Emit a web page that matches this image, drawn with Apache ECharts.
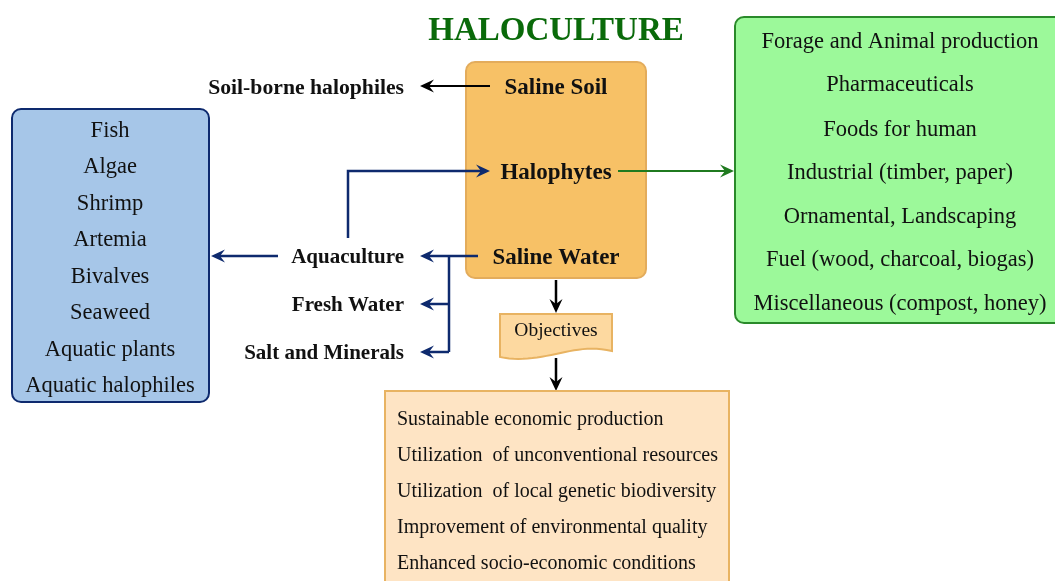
<!DOCTYPE html>
<html>
<head>
<meta charset="utf-8">
<script src="https://cdn.jsdelivr.net/npm/echarts@6/dist/echarts.min.js"></script>
<style>
  html, body { margin: 0; padding: 0; background: #fff; }
  #chart { width: 1055px; height: 581px; }
</style>
</head>
<body>
<div id="chart"></div>
<script>
// texts of the diagram
const title = 'HALOCULTURE';
const sourceLabels = ['Saline Soil', 'Halophytes', 'Saline Water'];
const halophyteUses = ['Forage and Animal production', 'Pharmaceuticals', 'Foods for human',
  'Industrial (timber, paper)', 'Ornamental, Landscaping', 'Fuel (wood, charcoal, biogas)',
  'Miscellaneous (compost, honey)'];
const aquaProducts = ['Fish', 'Algae', 'Shrimp', 'Artemia', 'Bivalves', 'Seaweed',
  'Aquatic plants', 'Aquatic halophiles'];
const waterUses = ['Aquaculture', 'Fresh Water', 'Salt and Minerals'];
const soilUse = 'Soil-borne halophiles';
const objectivesLabel = 'Objectives';
const objectives = ['Sustainable economic production', 'Utilization  of unconventional resources',
  'Utilization  of local genetic biodiversity', 'Improvement of environmental quality',
  'Enhanced socio-economic conditions'];

const SERIF = '"Liberation Serif", "DejaVu Serif", serif';
const BLUE = '#0e2a6e';

let chart = echarts.init(document.getElementById('chart'));

function txt(x, y, s, opt) {
  opt = opt || {};
  return {
    type: 'text', x: x, y: y + 2, silent: true,
    style: {
      text: s, fill: opt.color || '#111',
      font: (opt.bold ? 'bold ' : '') + (opt.size || 20) + 'px ' + SERIF,
      textAlign: opt.align || 'center', textVerticalAlign: 'middle'
    }
  };
}

function line(points, color, w) {
  return { type: 'polyline', silent: true, shape: { points: points },
    style: { stroke: color, lineWidth: w || 2, fill: null } };
}

// stealth arrow head, tip at (x, y), dir: 'l', 'r', 'd'
function head(x, y, dir, color) {
  let L = 14, W = 6.5, N = 9;
  let pts;
  if (dir === 'l') pts = [[x, y], [x + L, y - W], [x + N, y], [x + L, y + W]];
  if (dir === 'r') pts = [[x, y], [x - L, y - W], [x - N, y], [x - L, y + W]];
  if (dir === 'd') pts = [[x, y], [x - W, y - L], [x, y - N], [x + W, y - L]];
  return { type: 'polygon', silent: true, shape: { points: pts }, style: { fill: color } };
}

// points along a cubic bezier, for the wavy bottom of the "document" shape
function bez(p0, p1, p2, p3, n) {
  let out = [];
  for (let i = 1; i <= n; i++) {
    let t = i / n, u = 1 - t;
    out.push([
      u * u * u * p0[0] + 3 * u * u * t * p1[0] + 3 * u * t * t * p2[0] + t * t * t * p3[0],
      u * u * u * p0[1] + 3 * u * u * t * p1[1] + 3 * u * t * t * p2[1] + t * t * t * p3[1]
    ]);
  }
  return out;
}

let g = [];

// title
g.push(txt(556, 29, title, { bold: true, size: 33, color: '#0a6a0a' }));

// central orange box
g.push({ type: 'rect', shape: { x: 466, y: 62, width: 180, height: 216, r: 9 },
  style: { fill: '#f7c166', stroke: '#e3ac5c', lineWidth: 2 } });
let srcY = [86, 171, 256];
sourceLabels.forEach((s, i) => g.push(txt(556, srcY[i], s, { bold: true, size: 23 })));

// soil branch
g.push(line([[490, 86], [422, 86]], '#000'));
g.push(head(420, 86, 'l', '#000'));
g.push(txt(404, 86, soilUse, { bold: true, size: 21.7, align: 'right' }));

// halophyte uses (green box)
g.push(line([[618, 171], [730, 171]], '#1f7a1f'));
g.push(head(734, 171, 'r', '#1f7a1f'));
g.push({ type: 'rect', shape: { x: 735, y: 17, width: 330, height: 306, r: 9 },
  style: { fill: '#9cf99a', stroke: '#2a8a2a', lineWidth: 2 } });
let gy = [40, 83, 128, 171, 215, 258, 302];
halophyteUses.forEach((s, i) => g.push(txt(900, gy[i], s, { size: 22.5 })));

// aquaculture products (blue box)
g.push({ type: 'rect', shape: { x: 12, y: 109, width: 197, height: 293, r: 9 },
  style: { fill: '#a6c6e8', stroke: BLUE, lineWidth: 2 } });
let by = [129, 165, 202, 238, 275, 311, 348, 384];
aquaProducts.forEach((s, i) => g.push(txt(110, by[i], s, { size: 22.5 })));

// water branches
let wy = [256, 304, 352];
waterUses.forEach((s, i) => g.push(txt(404, wy[i], s, { bold: true, size: 21, align: 'right' })));
g.push(line([[478, 256], [424, 256]], BLUE, 2.5));
g.push(line([[449, 256], [449, 352]], BLUE, 2.5));
g.push(line([[449, 304], [424, 304]], BLUE, 2.5));
g.push(line([[449, 352], [424, 352]], BLUE, 2.5));
wy.forEach(y => g.push(head(420, y, 'l', BLUE)));
g.push(line([[278, 256], [216, 256]], BLUE, 2.5));
g.push(head(211, 256, 'l', BLUE));
g.push(line([[348, 238], [348, 171], [486, 171]], BLUE, 2.5));
g.push(head(490, 171, 'r', BLUE));

// objectives
g.push(line([[556, 280], [556, 306]], '#000', 2.5));
g.push(head(556, 313, 'd', '#000'));
let docPts = [[500, 314], [612, 314], [612, 351]]
  .concat(bez([612, 351], [590, 346], [575, 350], [556, 354], 12))
  .concat(bez([556, 354], [537, 358], [518, 361], [500, 357], 12));
g.push({ type: 'polygon', silent: true, shape: { points: docPts },
  style: { fill: '#fdd9a0', stroke: '#e8b362', lineWidth: 2 } });
g.push(txt(556, 329, objectivesLabel, { size: 19.5 }));
g.push(line([[556, 358], [556, 384]], '#000', 2.5));
g.push(head(556, 391, 'd', '#000'));
g.push({ type: 'rect', shape: { x: 385, y: 391, width: 344, height: 200 },
  style: { fill: '#fee4c4', stroke: '#e8b362', lineWidth: 2 } });
let oy = [418, 454, 490, 526, 562];
objectives.forEach((s, i) => g.push(txt(397, oy[i], s, { size: 20, align: 'left' })));

chart.setOption({
  backgroundColor: '#ffffff',
  animation: false,
  graphic: { elements: g }
});
</script>
</body>
</html>
